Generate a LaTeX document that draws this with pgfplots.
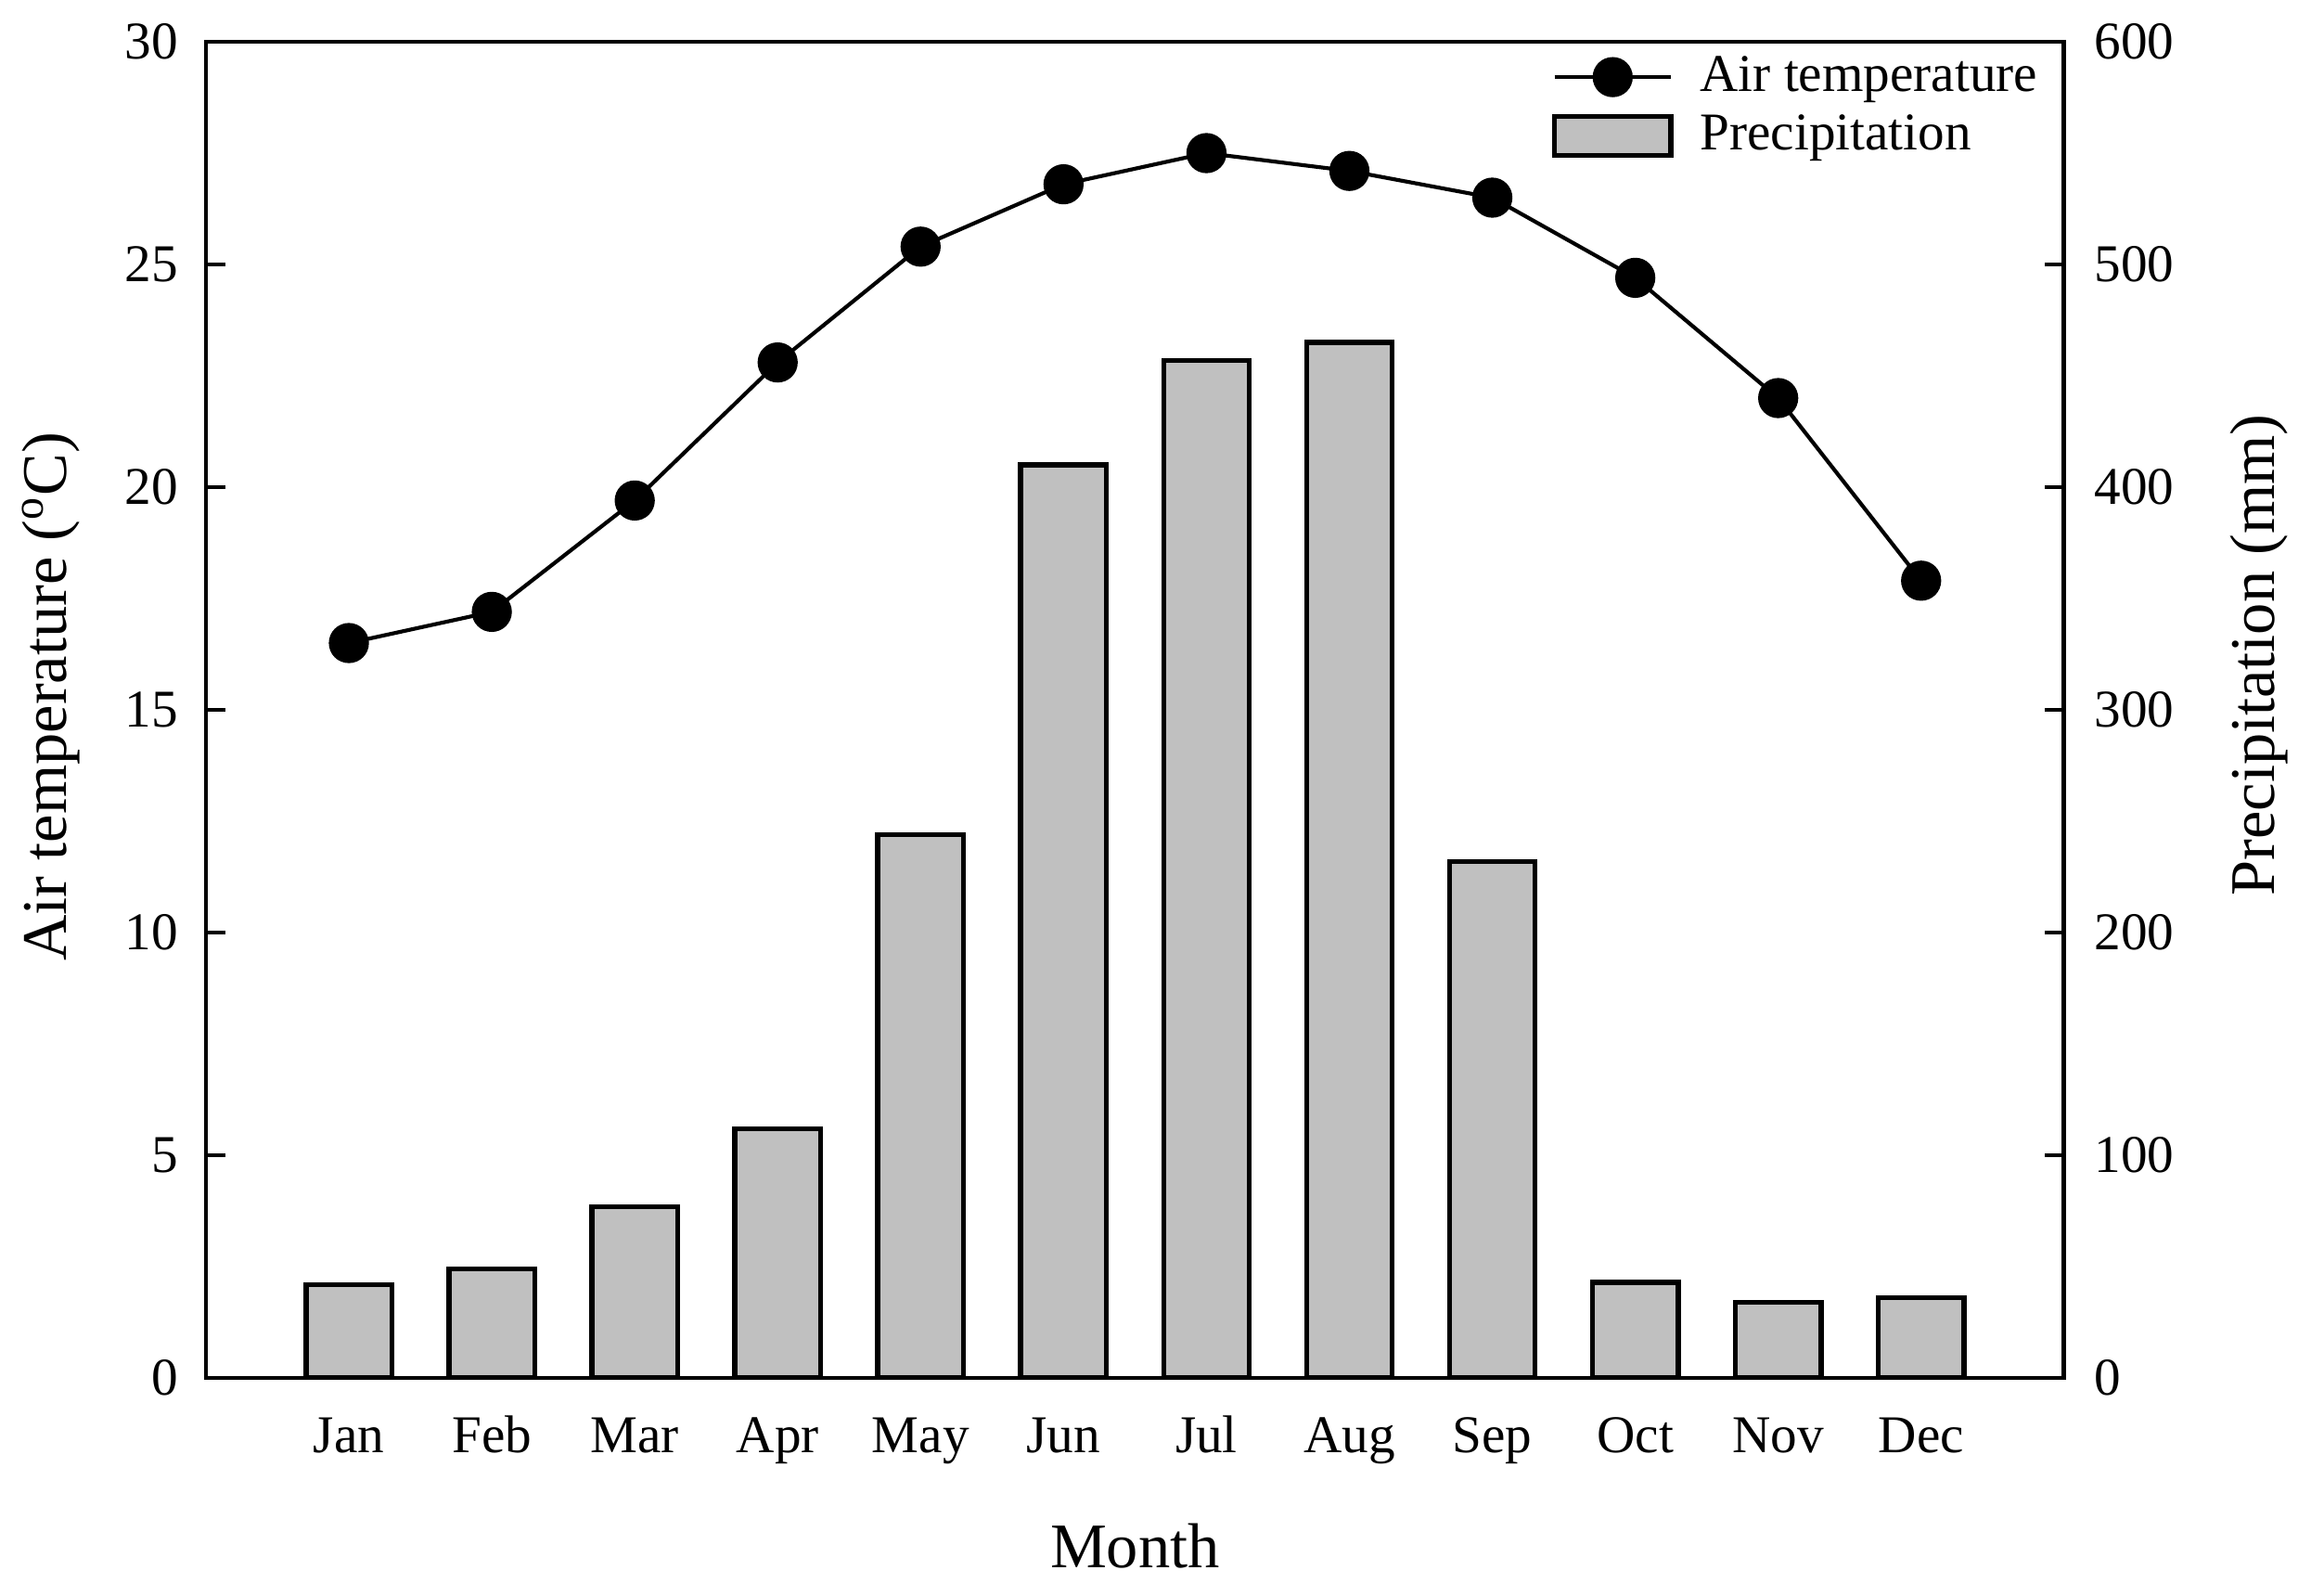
\documentclass[border=0pt]{standalone}
\usepackage{fontspec}
\setmainfont{Liberation Serif}
\usepackage{pgfplots}
\pgfplotsset{compat=1.18}

\definecolor{barfill}{RGB}{192,192,192}

\newcommand{\tickfont}{\fontsize{11.7}{14}\selectfont}
\newcommand{\labfont}{\fontsize{14}{16.8}\selectfont}

\pgfplotsset{
  templegend/.style={
    legend image code/.code={
      \draw[mark repeat=2, mark phase=2, ##1]
      plot coordinates {(0cm,0cm) (0.45cm,0cm) (0.9cm,0cm)};
      \path (1.06cm,0cm);}},
  barlegend/.style={
    legend image code/.code={
      \draw[fill=barfill, draw=black, line width=1.1pt]
      (0cm,-0.15cm) rectangle (0.9cm,0.15cm);
      \path (1.06cm,0cm);}},
  commonaxis/.style={
    width=409.6pt, height=294.5pt, scale only axis,
    at={(0pt,0pt)}, anchor=south west,
    xmin=0, xmax=13, ymin=0,
    tick align=inside,
    major tick length=4.3pt,
    axis line style={line width=1pt, black},
    tick style={line width=1pt, black},
    ticklabel style={font=\tickfont},
    label style={font=\labfont},
    /pgf/number format/assume math mode=true,
  },
}

\begin{document}
\begin{tikzpicture}
  \useasboundingbox (-45.4pt,-47.9pt) rectangle (466.9pt,303.7pt);
  % precipitation bars, right axis
  \begin{axis}[
      commonaxis,
      ymax=600,
      axis x line=none,
      axis y line*=right,
      ytick={0,100,...,600},
      yticklabel style={anchor=west, inner sep=0pt, xshift=6.5pt},
      ylabel={Precipitation (mm)},
      ylabel style={at={(axis description cs:1.1133,0.541)}, anchor=base, inner sep=0pt},
    ]
    \addplot[ybar, bar width=0.6, fill=barfill, draw=black, line width=1.1pt]
    coordinates {
        (1, 42)
        (2, 49)
        (3, 77)
        (4, 112)
        (5, 244)
        (6, 410)
        (7, 457)
        (8, 465)
        (9, 232)
        (10, 43)
        (11, 34)
        (12, 36)
      };
  \end{axis}
  % air temperature line, left axis and frame
  \begin{axis}[
      commonaxis,
      ymax=30,
      ytick={0,5,...,30},
      ytick pos=left,
      xtick={1,...,12},
      xticklabels={Jan,Feb,Mar,Apr,May,Jun,Jul,Aug,Sep,Oct,Nov,Dec},
      xtick style={draw=none},
      xtick pos=bottom,
      xticklabel style={anchor=base, inner sep=0pt, yshift=-16.4pt},
      yticklabel style={anchor=east, inner sep=0pt, xshift=-5.9pt},
      xlabel={Month},
      xlabel style={at={(axis description cs:0.5,0)}, anchor=base, inner sep=0pt, yshift=-41.9pt},
      ylabel={Air temperature (\textsuperscript{o}C)},
      ylabel style={at={(axis description cs:-0.0749,0.510)}, anchor=base, inner sep=0pt},
      legend cell align=left,
      legend style={draw=none, fill=none, font=\tickfont,
        at={(axis description cs:0.724,0.995)}, anchor=north west,
        inner sep=0pt, row sep=0.7pt,
        nodes={inner sep=1.5pt}},
    ]
    \addplot[black, line width=0.85pt, mark=*, mark size=4pt,
      mark options={solid, fill=black}, templegend]
    coordinates {
        (1, 16.5)
        (2, 17.2)
        (3, 19.7)
        (4, 22.8)
        (5, 25.4)
        (6, 26.8)
        (7, 27.5)
        (8, 27.1)
        (9, 26.5)
        (10, 24.7)
        (11, 22.0)
        (12, 17.9)
      };
    \addlegendentry{Air temperature}
    \addlegendimage{barlegend}
    \addlegendentry{Precipitation}
  \end{axis}
\end{tikzpicture}
\end{document}
